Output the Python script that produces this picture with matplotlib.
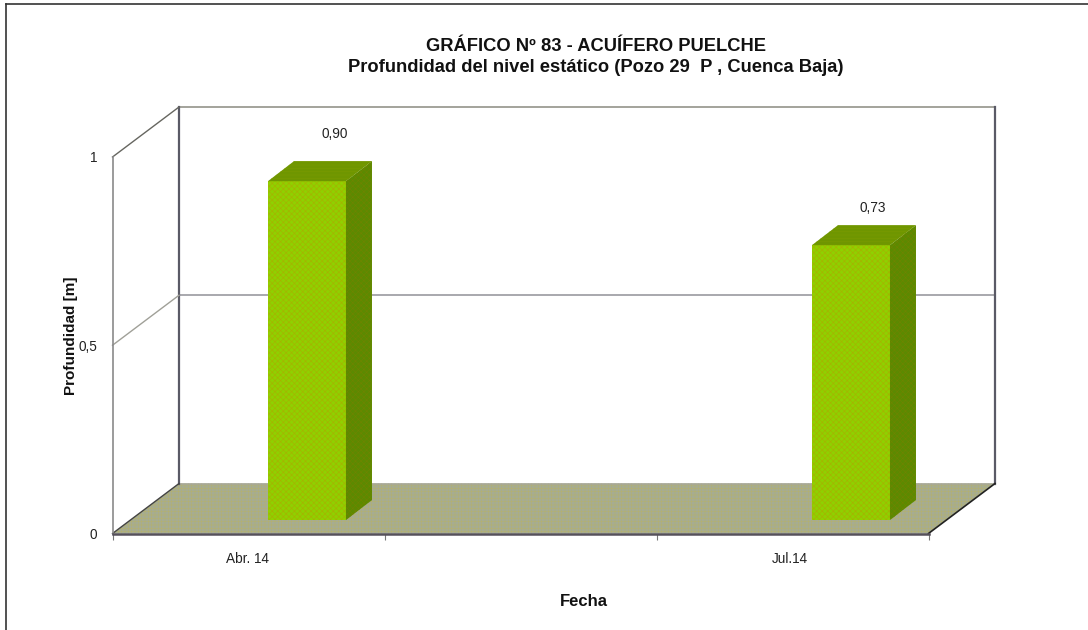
import matplotlib
matplotlib.use("Agg")
import matplotlib.pyplot as plt
from matplotlib.lines import Line2D
from matplotlib.patches import Polygon

plt.rcParams['font.family'] = ['Liberation Sans', 'DejaVu Sans']
plt.rcParams['hatch.linewidth'] = 0.4

# Data
categories = ["Abr. 14", "", "Jul.14"]
values = [0.90, None, 0.73]
value_labels = ["0,90", "", "0,73"]
y_ticks = [0, 0.5, 1]
y_tick_labels = ["0", "0,5", "1"]
title = "GRÁFICO Nº 83 - ACUÍFERO PUELCHE\nProfundidad del nivel estático (Pozo 29  P , Cuenca Baja)"
x_label = "Fecha"
y_label = "Profundidad [m]"

W, H = 1088, 630
fig = plt.figure(figsize=(W / 100, H / 100), dpi=100, facecolor="white")
L, R, T, B = 112.5, 928.5, 157, 533.5
ax = fig.add_axes([L / W, 1 - B / H, (R - L) / W, (B - T) / H])
ax.set_xlim(0, len(categories))
ax.set_ylim(0, 1)
ax.patch.set_visible(False)

px_x = len(categories) / (R - L)
px_y = 1.0 / (B - T)
# 3-D depth of the box and of the bars, in data units
DX, DY = 66.5 * px_x, 50 * px_y
BDX, BDY = 26 * px_x, 20 * px_y
BAR_W = 78 * px_x
BAR_SHIFT = 0.215       # bars sit to the right of the category centre
BAR_BASE = 13.5 * px_y  # bars stand part way back on the floor
n = len(categories)
# value-label placement relative to each bar's top-left corner, in pixels
LABEL_OFFSETS = {0: (53.5, 47), 2: (48, 37)}


def poly(pts, **kw):
    p = Polygon(pts, closed=True, clip_on=False, **kw)
    ax.add_patch(p)
    return p


def line(xs, ys, color, lw, z=2):
    ax.add_line(Line2D(xs, ys, color=color, lw=lw, clip_on=False, zorder=z))


# floor
poly([(0, 0), (n, 0), (n + DX, DY), (DX, DY)], facecolor="#A6AC92",
     edgecolor="#B4B070", hatch="+++++", lw=0, zorder=1)
# walls
line([DX, n + DX], [1 + DY, 1 + DY], "#8A8A80", 1.1)
line([DX, n + DX], [DY, DY], "#A8A898", 1.1)
line([DX, n + DX], [0.5 + DY, 0.5 + DY], "#9A9AA0", 1.2)
line([DX, DX], [DY, 1 + DY], "#5A5A66", 1.6)
line([n + DX, n + DX], [DY, 1 + DY], "#5A5A66", 1.6)
# left wall
for t in y_ticks[1:]:
    line([0, DX], [t, t + DY], "#666660" if t == 1 else "#A0A098", 1.0)
line([0, DX], [0, DY], "#444444", 1.0)
line([n, n + DX], [0, DY], "#222222", 1.2)

# bars
for i, (v, lab) in enumerate(zip(values, value_labels)):
    if v is None:
        continue
    x0 = i + 0.5 + BAR_SHIFT - BAR_W / 2
    x1 = x0 + BAR_W
    y0 = BAR_BASE
    y1 = BAR_BASE + v
    ax.bar(x0 + BAR_W / 2, v, BAR_W, bottom=y0, facecolor="#90D000",
           edgecolor="#A8B000", hatch="xxxxxx", lw=0, zorder=4, clip_on=False)
    poly([(x1, y0), (x1 + BDX, y0 + BDY), (x1 + BDX, y1 + BDY), (x1, y1)],
         facecolor="#5C8A00", edgecolor="#708400", hatch="xxxxxx", lw=0, zorder=4)
    poly([(x0, y1), (x1, y1), (x1 + BDX, y1 + BDY), (x0 + BDX, y1 + BDY)],
         facecolor="#6F9600", edgecolor="#7A9A00", hatch="-----", lw=0, zorder=5)
    ox, oy = LABEL_OFFSETS[i]
    ax.text(x0 + ox * px_x, y1 + oy * px_y, lab, fontsize=9.8, color="#222222",
            ha="left", va="center", clip_on=False)

# axes
for s in ("top", "right"):
    ax.spines[s].set_visible(False)
ax.spines["left"].set_color("#8A8A8A")
ax.spines["left"].set_linewidth(1.2)
ax.spines["bottom"].set_color("#55505A")
ax.spines["bottom"].set_linewidth(1.8)
ax.spines["bottom"].set_zorder(6)
ax.set_xticks(range(n + 1))
ax.set_xticklabels([])
ax.tick_params(axis="x", which="major", length=4, width=0.8, color="#777777")
ax.set_xticks([0.495, 2.49], minor=True)
ax.set_xticklabels([categories[0], categories[2]], minor=True, fontsize=9.8, color="#222222")
ax.tick_params(axis="x", which="minor", length=0, pad=13)
ax.set_yticks(y_ticks)
ax.set_yticklabels(y_tick_labels, fontsize=9.8, color="#222222")
ax.tick_params(axis="y", length=0, pad=11)

ax.set_xlabel(x_label, fontsize=12, fontweight="bold", color="#111111")
ax.xaxis.set_label_coords((584 - L) / (R - L), (B - 601) / (B - T), transform=ax.transAxes)
ax.xaxis.label.set_va("center")
ax.set_ylabel(y_label, fontsize=11, fontweight="bold", color="#111111")
ax.yaxis.set_label_coords((71 - L) / (R - L), (B - 336) / (B - T), transform=ax.transAxes)
ax.yaxis.label.set_va("center")

fig.text(596 / W, 1 - 57 / H, title, fontsize=13.2, fontweight="bold", color="#111111",
         ha="center", va="center", linespacing=1.35)

# outer frame of the picture
fig.add_artist(Line2D([6 / W, 6 / W], [0, 1 - 4 / H], color="#333333", lw=1.2))
fig.add_artist(Line2D([6 / W, 1], [1 - 4 / H, 1 - 4 / H], color="#333333", lw=1.2))

fig.savefig("out.png", dpi=100, facecolor="white")
